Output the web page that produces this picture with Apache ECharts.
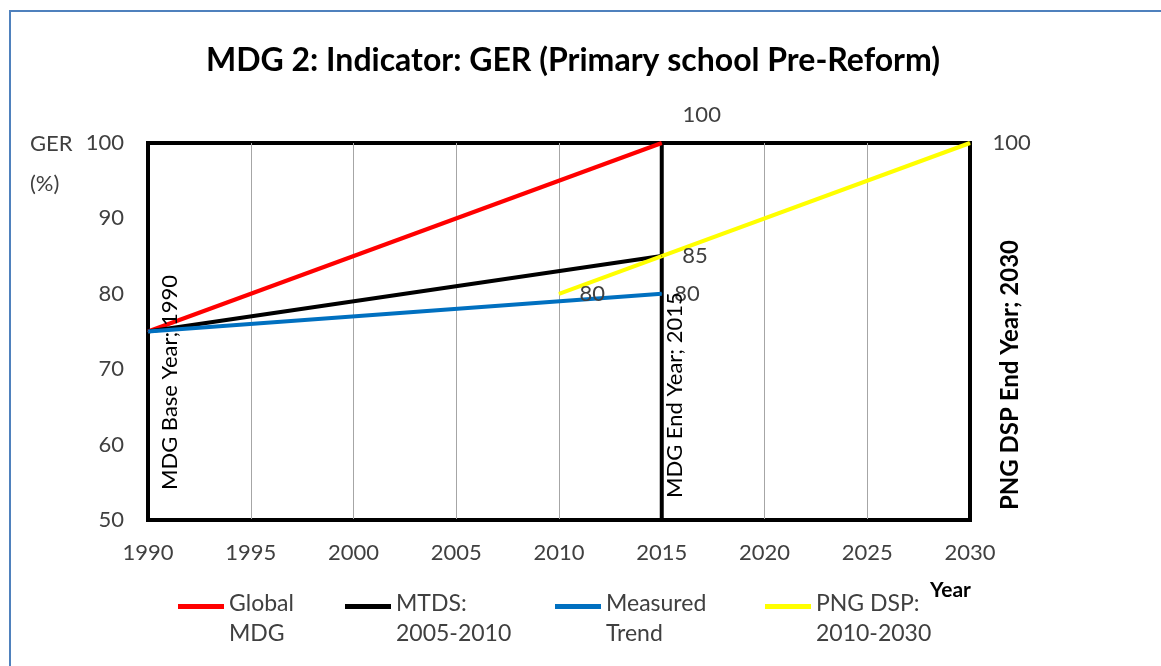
<!DOCTYPE html>
<html>
<head>
<meta charset="utf-8">
<script src="https://cdn.jsdelivr.net/npm/echarts@6/dist/echarts.min.js"></script>
<style>
  html, body { margin: 0; padding: 0; background: #fff; }
  #chart { width: 1161px; height: 666px; }
</style>
</head>
<body>
<div id="chart"></div>
<script>
// data
var yearTicks = [1990, 1995, 2000, 2005, 2010, 2015, 2020, 2025, 2030];
var gerTicks = [50, 60, 70, 80, 90, 100];
var seriesNames = ['Global\nMDG', 'MTDS:\n2005-2010', 'Measured\nTrend', 'PNG DSP:\n2010-2030'];
var globalMdg = [[1990, 75], [2015, 100]];
var mtds = [[1990, 75], [2015, 85]];
var measured = [[1990, 75], [2015, 80]];
var pngDsp = [[2010, 80], [2030, 100]];
var markerYears = [1990, 2015, 2030];
var markerNames = ['MDG Base Year; 1990', 'MDG End Year; 2015', 'PNG DSP End Year; 2030'];

var FONT = 'Lato';
var colors = ['#ff0000', '#000000', '#0070c0', '#ffff00'];

function valueLabel(lab) {
  return Object.assign({
    show: true, color: '#404040', fontFamily: FONT, fontSize: 22,
    formatter: function (p) { return p.value[1]; }
  }, lab);
}

// which points carry a value label, and where
function labelled(data, labs) {
  return data.map(function (d, i) {
    if (!labs[i]) return d;
    return { value: d, label: valueLabel(labs[i]) };
  });
}

var lineSeries = [
  labelled(globalMdg, [null, { position: 'top', distance: 12, offset: [40, -5] }]),
  labelled(mtds, [null, { position: 'right', distance: 20 }]),
  labelled(measured, [null, { position: 'right', distance: 12 }]),
  labelled(pngDsp, [{ position: 'right', distance: 20 }, { position: 'right', distance: 22 }])
].map(function (data, i) {
  return {
    name: seriesNames[i],
    type: 'line',
    data: data,
    symbol: 'circle',
    symbolSize: 1,
    lineStyle: { color: colors[i], width: 4 },
    itemStyle: { color: colors[i] },
    z: 3
  };
});

var markerSeries = markerYears.map(function (y) {
  return {
    type: 'line',
    data: [[y, gerTicks[0]], [y, gerTicks[gerTicks.length - 1]]],
    symbol: 'none',
    lineStyle: { color: '#000', width: 4 },
    z: 2,
    silent: true
  };
});

var legendLefts = [178, 345, 555, 765];
var legends = seriesNames.map(function (n, i) {
  return {
    data: [n],
    left: legendLefts[i],
    top: 589,
    padding: 0,
    itemWidth: 46,
    itemHeight: 30,
    icon: 'path://M0,0L46,0L46,5L0,5Z M0,30L0.5,30',
    selectedMode: false,
    textStyle: { fontFamily: FONT, fontSize: 23, color: '#404040', lineHeight: 30, padding: [0, 0, 0, 0] }
  };
});

var chart = echarts.init(document.getElementById('chart'));
var option = {
  animation: false,
  backgroundColor: '#fff',
  title: {
    text: 'MDG 2: Indicator: GER (Primary school Pre-Reform)',
    left: 568, top: 40, textAlign: 'center',
    textStyle: { fontFamily: FONT, fontSize: 32, fontWeight: 'bold', color: '#000' }
  },
  legend: legends,
  grid: { left: 148, right: 191, top: 143, bottom: 146, show: true, borderColor: '#000', borderWidth: 4 },
  xAxis: {
    type: 'value', min: yearTicks[0], max: yearTicks[yearTicks.length - 1], interval: 5,
    axisLine: { show: true, lineStyle: { color: '#000', width: 3 } },
    axisTick: { show: false },
    splitLine: { show: true, lineStyle: { color: '#a6a6a6', width: 1 } },
    axisLabel: { fontFamily: FONT, fontSize: 22, color: '#404040', margin: 22,
      formatter: function (v) { return String(v); } }
  },
  yAxis: {
    type: 'value', min: gerTicks[0], max: gerTicks[gerTicks.length - 1], interval: 10,
    axisLine: { show: true, lineStyle: { color: '#000', width: 3 } },
    axisTick: { show: false },
    splitLine: { show: false },
    axisLabel: { fontFamily: FONT, fontSize: 22, color: '#404040', margin: 24 }
  },
  series: markerSeries.concat(lineSeries)
};
chart.setOption(option);

// rotated marker labels and free text
var markerLabelPos = [[22, -30, 'normal', 22], [13, -22, 'normal', 22], [40, -10, 'bold', 24]];
var graphics = [
  { type: 'rect', shape: { x: 10, y: 11, width: 1300, height: 800 }, style: { fill: 'none', stroke: '#4f81bd', lineWidth: 2 }, silent: true },
  { type: 'text', x: 30, y: 144, style: { text: 'GER', fontFamily: FONT, fontSize: 22, fill: '#404040', textAlign: 'left', textVerticalAlign: 'middle' } },
  { type: 'text', x: 30, y: 184, style: { text: '(%)', fontFamily: FONT, fontSize: 22, fill: '#404040', textAlign: 'left', textVerticalAlign: 'middle' } },
  { type: 'text', x: 930, y: 590, style: { text: 'Year', fontFamily: FONT, fontSize: 21, fontWeight: 'bold', fill: '#000', textAlign: 'left', textVerticalAlign: 'middle' } }
];
markerYears.forEach(function (y, i) {
  var p = chart.convertToPixel({ gridIndex: 0 }, [y, gerTicks[0]]);
  var s = markerLabelPos[i];
  graphics.push({
    type: 'text',
    x: p[0] + s[0],
    y: p[1] + s[1],
    rotation: Math.PI / 2,
    z: 10,
    style: { text: markerNames[i], fontFamily: FONT, fontSize: s[3], fontWeight: s[2], fill: '#000', textAlign: 'left', textVerticalAlign: 'middle' }
  });
});
chart.setOption({ graphic: graphics });
</script>
</body>
</html>
